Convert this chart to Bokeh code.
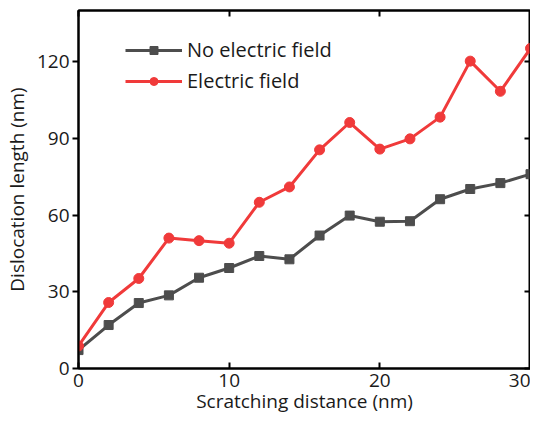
from bokeh.plotting import figure
from bokeh.models import LinearAxis, Range1d, Legend, LegendItem, FixedTicker
from bokeh.embed import file_html
from bokeh.resources import INLINE

distance = [0, 2, 4, 6, 8, 10, 12, 14, 16, 18, 20, 22, 24, 26, 28, 30]
no_field = [7.2, 17, 25.6, 28.6, 35.5, 39.3, 44, 42.7, 52, 59.8, 57.4, 57.6, 66.2, 70.2, 72.5, 76]
with_field = [8.8, 25.8, 35.2, 51, 50, 49, 65, 71, 85.5, 96.2, 85.8, 89.8, 98.3, 120.2, 108.4, 125.2]
x_ticks = [0, 10, 20, 30]
y_ticks = [0, 30, 60, 90, 120]

FONT = "Open Sans"
GREY = "#4d4d4d"
RED = "#f03a3a"

p = figure(width=530, height=416, output_backend="svg", toolbar_location=None,
           x_range=Range1d(0, 30), y_range=Range1d(0, 140),
           min_border_left=70, min_border_right=0, min_border_top=10, min_border_bottom=40)
p.grid.visible = False
p.outline_line_color = "black"
p.outline_line_width = 2
p.background_fill_color = "white"
p.border_fill_color = "white"

r1 = p.line(distance, no_field, line_color=GREY, line_width=3)
m1 = p.scatter(distance, no_field, marker="square", size=9, fill_color=GREY, line_color=GREY)
r2 = p.line(distance, with_field, line_color=RED, line_width=3)
m2 = p.scatter(distance, with_field, marker="circle", size=10, fill_color=RED, line_color=RED)

for ax in (p.xaxis[0], p.yaxis[0]):
    ax.axis_line_width = 2
    ax.major_tick_line_width = 2
    ax.minor_tick_line_color = None
    ax.major_label_text_font = FONT
    ax.major_label_text_font_size = "19px"
    ax.major_label_text_color = "#1a1a1a"
    ax.axis_label_text_font = FONT
    ax.axis_label_text_font_size = "19px"
    ax.axis_label_text_font_style = "normal"
    ax.axis_label_text_color = "#1a1a1a"

p.xaxis.ticker = FixedTicker(ticks=x_ticks)
p.yaxis.ticker = FixedTicker(ticks=y_ticks)
p.xaxis.axis_label = "Scratching distance (nm)"
p.yaxis.axis_label = "Dislocation length (nm)"
p.xaxis.major_tick_in = 6
p.xaxis.major_tick_out = 0
p.yaxis.major_tick_in = 0
p.yaxis.major_tick_out = 6
p.xaxis.major_label_standoff = 5
p.xaxis.axis_label_standoff = -2
p.yaxis.major_label_standoff = 3
p.yaxis.axis_label_standoff = 4

top = LinearAxis(ticker=FixedTicker(ticks=x_ticks), major_tick_in=6, major_tick_out=0,
                 major_label_overrides={t: "" for t in x_ticks}, minor_tick_line_color=None,
                 axis_line_width=2, major_tick_line_width=2, major_label_standoff=0,
                 major_label_text_font_size="1px")
right = LinearAxis(ticker=FixedTicker(ticks=y_ticks), major_tick_in=6, major_tick_out=0,
                   major_label_overrides={t: "" for t in y_ticks}, minor_tick_line_color=None,
                   axis_line_width=2, major_tick_line_width=2, major_label_standoff=0,
                   major_label_text_font_size="1px")
p.add_layout(top, "above")
p.add_layout(right, "right")

legend = Legend(items=[LegendItem(label="No electric field", renderers=[r1, m1]),
                       LegendItem(label="Electric field", renderers=[r2, m2])],
                location=(47, 274), padding=0, margin=0, spacing=4,
                glyph_width=57, glyph_height=20, label_height=20,
                label_text_font=FONT, label_text_font_size="20px", label_text_color="#1a1a1a",
                label_standoff=5, border_line_color=None, background_fill_alpha=0)
p.add_layout(legend)

open("out.html", "w").write(file_html(p, INLINE))
